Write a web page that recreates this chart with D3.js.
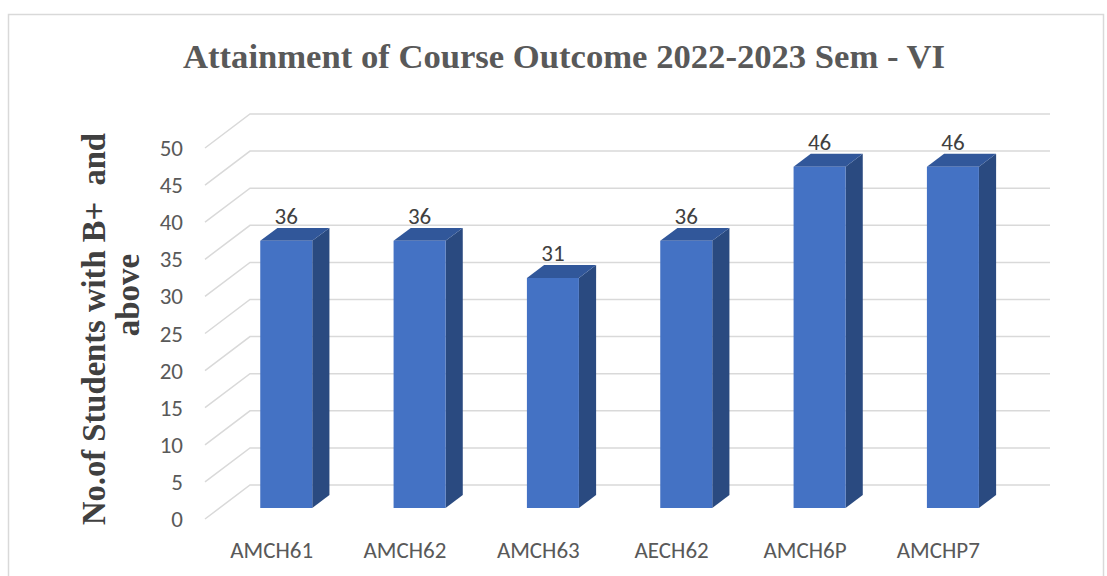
<!DOCTYPE html>
<html>
<head>
<meta charset="utf-8">
<script src="https://cdn.jsdelivr.net/npm/d3@7"></script>
<style>
  body { margin: 0; background: #fff; }
  svg { display: block; }
</style>
</head>
<body>
<svg id="chart" width="1107" height="576"></svg>
<script>
// data
var categories = ["AMCH61", "AMCH62", "AMCH63", "AECH62", "AMCH6P", "AMCHP7"];
var values = [36, 36, 31, 36, 46, 46];
var yTicks = [0, 5, 10, 15, 20, 25, 30, 35, 40, 45, 50];

var svg = d3.select("#chart");
var sans = "Carlito, Calibri, 'Liberation Sans', Arial, sans-serif";

// chart frame
svg.append("rect")
	.attr("x", 8.5).attr("y", 14.5)
	.attr("width", 1095).attr("height", 600)
	.attr("fill", "#fff")
	.attr("stroke", "#d9d9d9")
	.attr("stroke-width", 1.5);

// back wall scales, depth is handled by an offset
var x = d3.scaleBand().domain(categories).range([250, 1050]);
var y = d3.scaleLinear().domain([0, 50]).range([485, 114]);
var depthX = -45, depthY = 34;   // offset from back wall to front edge

// t = 0 front edge, t = 1 back wall
function pt(xb, v, t) {
	return [xb + (1 - t) * depthX, y(v) + (1 - t) * depthY];
}

// gridlines: diagonal on the left wall + horizontal on the back wall
var grid = svg.append("g").attr("stroke", "#d9d9d9").attr("stroke-width", 1.5).attr("fill", "none");
yTicks.forEach(function (v) {
	var a = pt(250, v, 0), b = pt(250, v, 1), c = pt(1050, v, 1);
	grid.append("polyline")
		.attr("points", [a, b, c].map(function (p) { return p.join(","); }).join(" "));
});

// tick labels
svg.append("g").selectAll("text")
	.data(yTicks)
	.join("text")
	.attr("x", 183)
	.attr("y", function (d) { return pt(250, d, 0)[1] + 8; })
	.attr("text-anchor", "end")
	.attr("font-family", sans)
	.attr("font-size", 23)
	.attr("fill", "#595959")
	.text(function (d) { return d; });

// bars
var tFront = 0.324, tBack = 0.706;
var barW = x.bandwidth() * 0.39;

function poly(points) { return points.map(function (p) { return p.join(","); }).join(" "); }

var bars = svg.append("g");
categories.forEach(function (c, i) {
	var v = values[i];
	var xl = x(c) + (x.bandwidth() - barW) / 2, xr = xl + barW;
	var flb = pt(xl, 0, tFront), frb = pt(xr, 0, tFront),
		flt = pt(xl, v, tFront), frt = pt(xr, v, tFront),
		blt = pt(xl, v, tBack), brt = pt(xr, v, tBack), brb = pt(xr, 0, tBack);

	bars.append("polygon").attr("points", poly([frb, frt, brt, brb])).attr("fill", "#2a4a80");
	bars.append("polygon").attr("points", poly([flt, frt, brt, blt])).attr("fill", "#31579a");
	bars.append("polygon").attr("points", poly([flb, flt, frt, frb])).attr("fill", "#4472c4");

	// data label
	bars.append("text")
		.attr("x", (flt[0] + frt[0]) / 2)
		.attr("y", blt[1] - 4)
		.attr("text-anchor", "middle")
		.attr("font-family", sans)
		.attr("font-size", 23)
		.attr("fill", "#404040")
		.text(v);
});

// category labels on the front edge
svg.append("g").selectAll("text")
	.data(categories)
	.join("text")
	.attr("x", function (d) { return pt(x(d) + x.bandwidth() / 2, 0, 0)[0]; })
	.attr("y", 558)
	.attr("text-anchor", "middle")
	.attr("font-family", sans)
	.attr("font-size", 23)
	.attr("fill", "#595959")
	.text(function (d) { return d; });

// title
svg.append("text")
	.attr("x", 564).attr("y", 68)
	.attr("text-anchor", "middle")
	.attr("font-family", "'Liberation Serif', 'Times New Roman', serif")
	.attr("font-weight", "bold")
	.attr("font-size", 34)
	.attr("fill", "#595959")
	.attr("textLength", 762)
	.attr("lengthAdjust", "spacingAndGlyphs")
	.text("Attainment of Course Outcome 2022-2023 Sem - VI");

// y axis title, two lines
var yTitle = svg.append("g")
	.attr("font-family", "'Liberation Serif', 'Times New Roman', serif")
	.attr("font-weight", "bold")
	.attr("font-size", 33)
	.attr("fill", "#404040")
	.attr("text-anchor", "middle");
yTitle.append("text")
	.attr("transform", "translate(105,329) rotate(-90)")
	.attr("textLength", 392)
	.attr("lengthAdjust", "spacingAndGlyphs")
	.text("No.of Students with B+\u00a0 and");
yTitle.append("text")
	.attr("transform", "translate(139,295) rotate(-90)")
	.text("above");
</script>
</body>
</html>
